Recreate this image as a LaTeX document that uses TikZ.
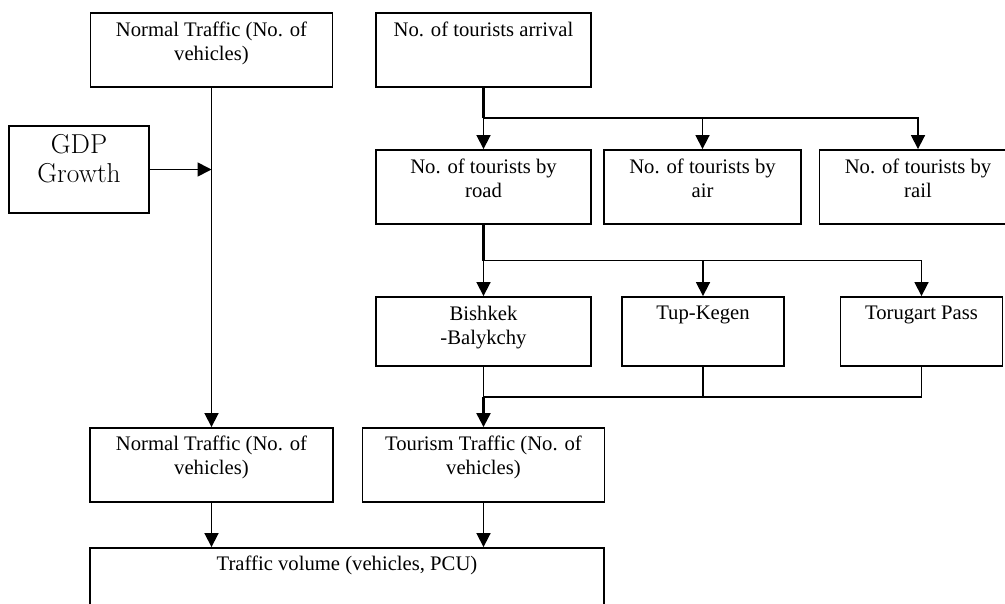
\documentclass[tikz,border=0pt]{standalone}
\usepackage{fontspec}
\newfontfamily\tnr{Liberation Serif}
\usetikzlibrary{arrows.meta}
\begin{document}
\begin{tikzpicture}[x=0.75pt,y=-0.75pt,
  box/.style={draw, line width=1.4pt, rectangle, inner sep=0pt},
  txt/.style={inner sep=0pt, align=center, font=\tnr\fontsize{15.5}{18}\selectfont},
  gtxt/.style={inner sep=0pt, align=center, font=\fontsize{20.5}{21.5}\selectfont},
  arrowed/.style={-{Triangle[length=10.5pt,width=10.5pt]}},
  trunk/.style={line width=1.7pt},
  branch/.style={line width=1.3pt},
  thinline/.style={line width=1pt},
  mainline/.style={line width=1.3pt}
]
\useasboundingbox (0,0) rectangle (1005,603);
\clip (0,0) rectangle (1005,603);

% boxes
\node[box, minimum width=181.5pt, minimum height=55.5pt] (nt1) at (211.5,50) {};
\node[box, minimum width=105pt, minimum height=65.25pt] (gdp) at (79,169.5) {};
\node[box, minimum width=161.25pt, minimum height=55.5pt] (arrv) at (483.5,50) {};
\node[box, minimum width=161.25pt, minimum height=55.5pt] (road) at (483.5,187) {};
\node[box, minimum width=147.75pt, minimum height=55.5pt] (air) at (702.5,187) {};
\node[box, minimum width=147.75pt, minimum height=55.5pt] (rail) at (918,187) {};
\node[box, minimum width=161.25pt, minimum height=51.75pt] (bish) at (483.5,331.5) {};
\node[box, minimum width=121.5pt, minimum height=51.75pt] (tup) at (703,331.5) {};
\node[box, minimum width=121.5pt, minimum height=51.75pt] (tor) at (921.5,331.5) {};
\node[box, minimum width=182.25pt, minimum height=55.5pt] (nt2) at (211.5,465) {};
\node[box, minimum width=181.5pt, minimum height=55.5pt] (tt) at (483.5,465) {};
\node[box, minimum width=385.5pt, minimum height=55.5pt] (vol) at (347,585) {};

% texts
\node[txt, below=7pt] (nt1t) at (nt1.north) {Normal Traffic (No. of\\vehicles)};
\node[gtxt, below=7pt] (gdpt) at (gdp.north) {GDP\\Growth};
\node[txt, below=7pt] (arrvt) at (arrv.north) {No. of tourists arrival};
\node[txt, below=7pt] (roadt) at (road.north) {No. of tourists by\\road};
\node[txt, below=7pt] (airt) at (air.north) {No. of tourists by\\air};
\node[txt, below=7pt] (railt) at (rail.north) {No. of tourists by\\rail};
\node[txt, below=7pt] (bisht) at (bish.north) {Bishkek\\-Balykchy};
\node[txt, below=7pt] (tupt) at (tup.north) {Tup-Kegen};
\node[txt, below=7pt] (tort) at (tor.north) {Torugart Pass};
\node[txt, below=6.5pt] (nt2t) at (nt2.north) {Normal Traffic (No. of\\vehicles)};
\node[txt, below=6.5pt] (ttt) at (tt.north) {Tourism Traffic (No. of\\vehicles)};
\node[txt, below=6.5pt] (volt) at (vol.north) {Traffic volume (vehicles, PCU)};

% connectors
\coordinate (s1) at (483.5,118);
\coordinate (s2) at (483.5,260.5);
\coordinate (m) at (483.5,396.7);

\draw[mainline, arrowed] (nt1.south) -- (nt2.north);
\draw[mainline, arrowed] (gdp.east) -- (gdp.east -| nt1.south);

\draw[trunk] (arrv.south) -- (s1);
\draw[branch, arrowed] (s1) -- (road.north);
\draw[branch, arrowed] (s1) -| (air.north);
\draw[branch, arrowed] (s1) -| (rail.north);

\draw[trunk] (road.south) -- (s2);
\draw[branch, arrowed] (s2) -- (bish.north);
\draw[branch, arrowed] (s2) -| (tup.north);
\draw[branch, arrowed] (s2) -| (tor.north);

\draw[thinline] (bish.south) -- (m);
\draw[thinline] (tup.south) |- (m);
\draw[branch] (tor.south) |- (m);
\draw[trunk, arrowed] (m) -- (tt.north);

\draw[mainline, arrowed] (nt2.south) -- (nt2.south |- vol.north);
\draw[mainline, arrowed] (tt.south) -- (tt.south |- vol.north);
\end{tikzpicture}
\end{document}
